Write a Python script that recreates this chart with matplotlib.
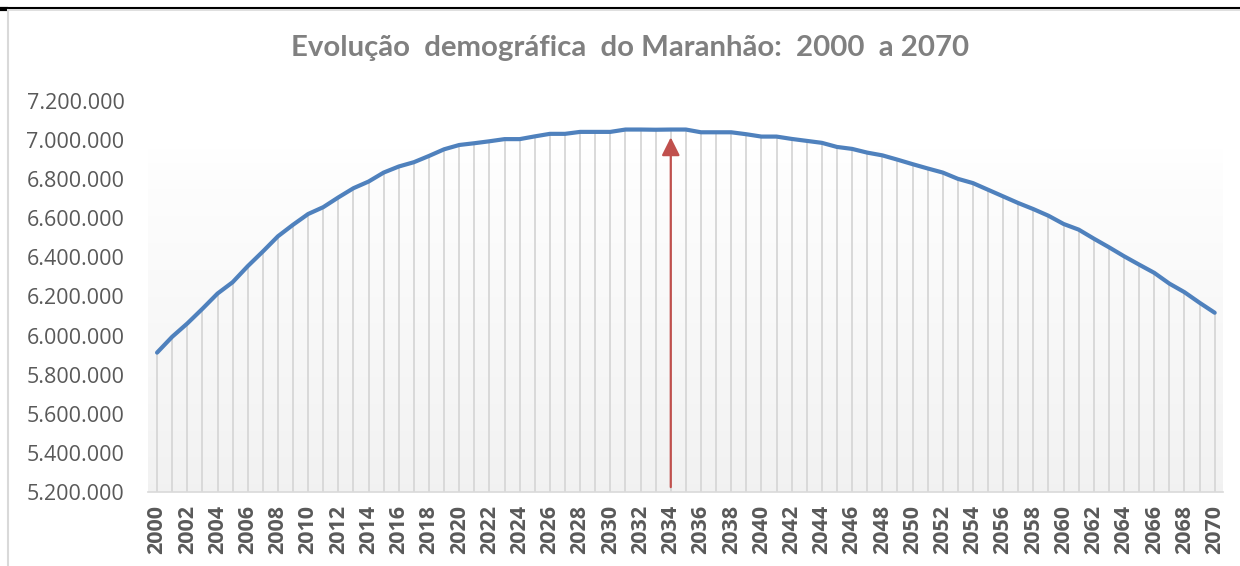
import numpy as np
import matplotlib.pyplot as plt
from matplotlib.lines import Line2D
from matplotlib.ticker import FuncFormatter, MultipleLocator

# population estimates
years = list(range(2000, 2071))
population = [
    5913000, 5994000, 6062000, 6137000, 6215000, 6273000, 6355000, 6430000,
    6508000, 6567000, 6622000, 6657000, 6707000, 6754000, 6788000, 6834000,
    6865000, 6887000, 6919000, 6953000, 6975000, 6984000, 6994000, 7005000,
    7005000, 7019000, 7032000, 7032000, 7042000, 7042000, 7042000, 7054000,
    7054000, 7053000, 7054000, 7054000, 7040000, 7040000, 7040000, 7030000,
    7018000, 7018000, 7006000, 6996000, 6986000, 6965000, 6955000, 6936000,
    6922000, 6900000, 6877000, 6855000, 6834000, 6802000, 6780000, 6746000,
    6712000, 6678000, 6647000, 6613000, 6571000, 6542000, 6496000, 6452000,
    6406000, 6363000, 6321000, 6266000, 6222000, 6168000, 6117000,
]
peak_year = 2034
title = "Evolução  demográfica  do Maranhão:  2000  a 2070"

line_color = "#4f81bd"
arrow_color = "#c0504d"
text_color = "#595959"

fig = plt.figure(figsize=(12.4, 5.66), dpi=100)
ax = fig.add_axes([148 / 1240, 74 / 566, 1075 / 1240, 391 / 566])

ymin, ymax = 5200000, 7200000
ax.set_xlim(1999.4, 2070.55)
ax.set_ylim(ymin, ymax)

# faint vertical gradient behind the plot
grad = np.linspace(0, 1, 256).reshape(-1, 1)
top_c = np.array([0.998, 0.998, 0.998])
bot_c = np.array([0.948, 0.948, 0.948])
img = bot_c + (top_c - bot_c) * grad
img = np.repeat(img[:, None, :], 2, axis=1).reshape(256, 2, 3)
ax.imshow(img, extent=[1999.4, 2070.55, ymin, 6950000], origin="lower",
          aspect="auto", zorder=0)

# drop lines from each point to the axis
ax.vlines(years, ymin, population, color="#d9d9d9", lw=1.4, zorder=1)
ax.plot(years, population, color=line_color, lw=3, solid_capstyle="round",
        zorder=3)

ax.annotate("", xy=(peak_year, 7014000), xytext=(peak_year, 5225000),
            arrowprops=dict(arrowstyle="-|>,head_length=1.1,head_width=0.55",
                            color=arrow_color, lw=1.6, shrinkA=0, shrinkB=0),
            zorder=4)

for s in ["top", "right", "left"]:
    ax.spines[s].set_visible(False)
ax.spines["bottom"].set_color("#d9d9d9")
ax.spines["bottom"].set_linewidth(1.2)

ax.yaxis.set_major_locator(MultipleLocator(200000))
ax.yaxis.set_major_formatter(FuncFormatter(lambda v, p: f"{int(v):,}".replace(",", ".")))
ax.set_xticks(years[::2])
ax.tick_params(axis="y", length=0, pad=17, labelsize=15.5, labelcolor=text_color)
ax.tick_params(axis="x", length=0, pad=9, labelsize=15.5, labelcolor=text_color,
               labelrotation=90)
for lab in ax.get_yticklabels():
    lab.set_fontfamily("Open Sans")
for lab in ax.get_xticklabels():
    lab.set_fontfamily("Open Sans")
    lab.set_fontweight("bold")

fig.text(0.508, 0.915, title, ha="center", va="center", fontsize=21.2,
         fontweight="bold", color="#808080", family="Lato")

# chart frame remnants
fig.add_artist(Line2D([0, 1], [1 - 7.5 / 566] * 2, color="black", lw=1.5))
fig.add_artist(Line2D([0, 1], [1 - 10 / 566] * 2, color="#d9d9d9", lw=1.2))
fig.add_artist(Line2D([0, 6 / 1240], [1 - 9 / 566] * 2, color="black", lw=3))
fig.add_artist(Line2D([7.5 / 1240] * 2, [0, 1 - 10 / 566], color="#d9d9d9", lw=1.5))

fig.savefig("out.png", dpi=100)
